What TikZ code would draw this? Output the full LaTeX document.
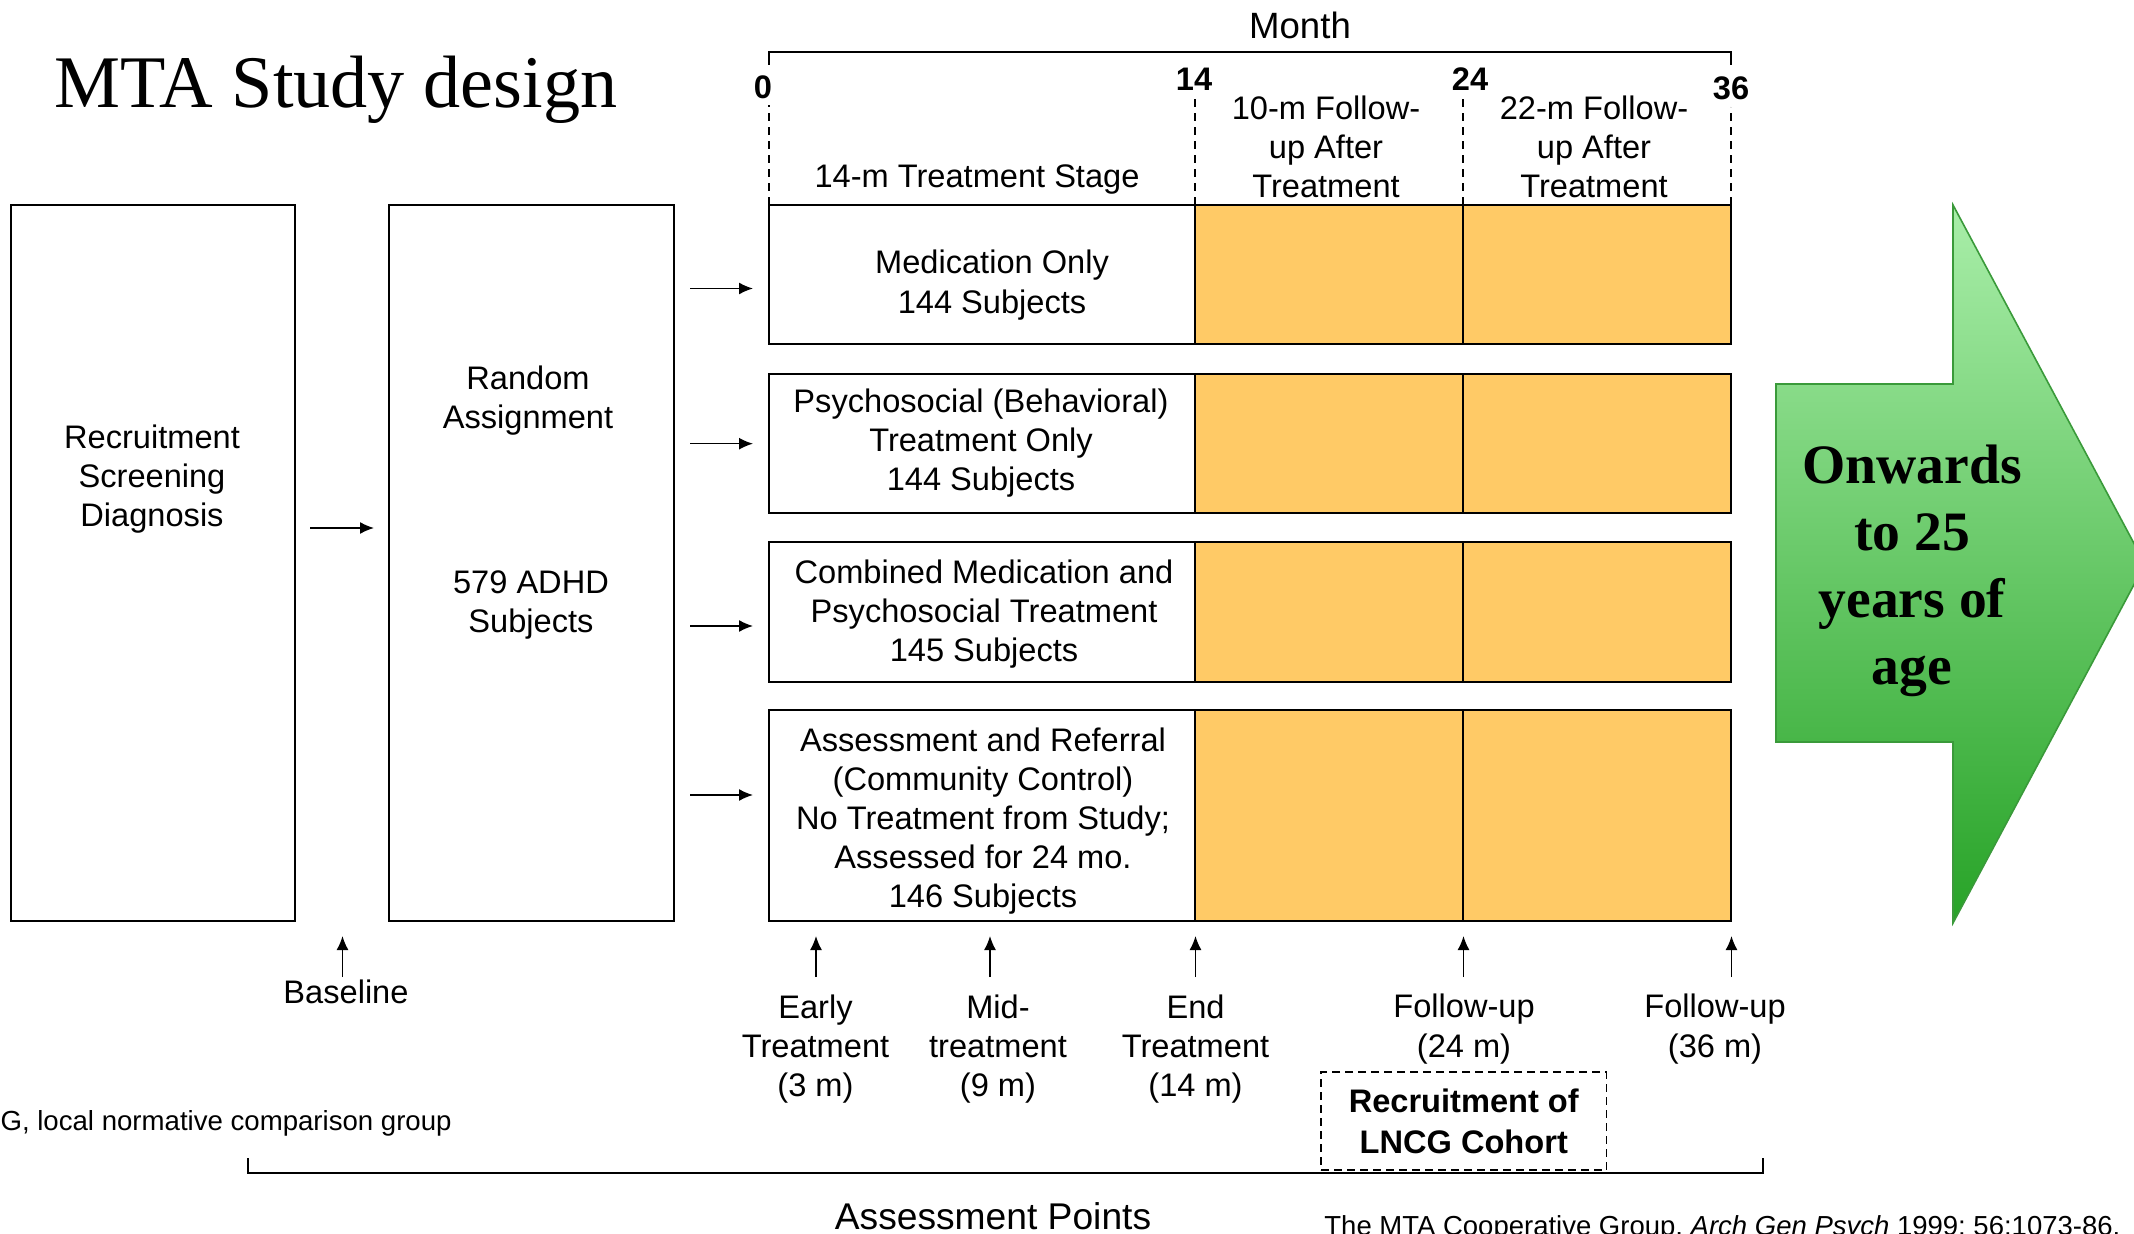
\documentclass[tikz,border=0pt]{standalone}
\usepackage{fontspec}
\setmainfont{Liberation Sans}
\newfontfamily\serifr{Liberation Serif}
\usetikzlibrary{arrows.meta}
\definecolor{orng}{HTML}{FFCA66}
\definecolor{grtop}{HTML}{A9EEA9}
\definecolor{grbot}{HTML}{27A327}
\definecolor{grline}{HTML}{3A9A3A}
\begin{document}
\begin{tikzpicture}[x=0.5pt,y=-0.5pt,
  txt/.style={font=\fontsize{16.3}{19.6}\selectfont, align=center, inner sep=0pt},
  numb/.style={font=\fontsize{16.3}{19.6}\selectfont\bfseries, inner sep=0pt},
  boxn/.style={draw=black, line width=0.9pt, inner sep=0pt, outer sep=0pt},
  arr/.style={-{Latex[length=7pt,width=6pt]}, line width=0.75pt},
  dashline/.style={line width=0.7pt, dash pattern=on 4pt off 3pt},
  brack/.style={line width=1.3pt}]
\useasboundingbox (0,0) rectangle (2134,1234);
\clip (0,0) rectangle (2134,1234);

% title
\node[font=\serifr\fontsize{37.1}{40}\selectfont, anchor=base west, inner sep=0pt] (title) at (54,108) {MTA Study design};

% left boxes
\node[boxn, minimum width=142pt, minimum height=358pt] (b1) at (153,563) {};
\node[boxn, minimum width=142.5pt, minimum height=358pt] (b2) at (531.5,563) {};
\node[txt] (t1) at (152,479) {Recruitment\\Screening\\Diagnosis};
\node[txt] (t2a) at (528,400.5) {Random\\Assignment};
\node[txt] (t2b) at (531,605) {579 ADHD\\Subjects};

% treatment rows
\foreach \n/\y/\h in {1/274.5/69.5, 2/443.5/69.5, 3/612/70, 4/815.5/105.5}{
  \node[boxn, minimum width=213pt, minimum height=\h pt] (w\n) at (982,\y) {};
  \node[boxn, fill=orng, minimum width=134pt, minimum height=\h pt] (oa\n) at (1329,\y) {};
  \node[boxn, fill=orng, minimum width=134pt, minimum height=\h pt] (ob\n) at (1597,\y) {};
}
\node[txt] (rt1) at (992,285) {Medication Only\\144 Subjects};
\node[txt] (rt2) at (981,443) {Psychosocial (Behavioral)\\Treatment Only\\144 Subjects};
\node[txt] (rt3) at (984,614) {Combined Medication and\\Psychosocial Treatment\\145 Subjects};
\node[txt] (rt4) at (983,821) {Assessment and Referral\\(Community Control)\\No Treatment from Study;\\Assessed for 24 mo.\\146 Subjects};

% timeline header
\node[font=\fontsize{18.3}{22}\selectfont, inner sep=0pt] (month) at (1300,25) {Month};
\draw[brack] (w1.north west |- 0,65) -- (w1.north west |- 0,52) -- (ob1.north east |- 0,52) -- (ob1.north east |- 0,65);
\node[numb] (m0) at (763,87) {0};
\node[numb] (m14) at (1194,79) {14};
\node[numb] (m24) at (1470,79) {24};
\node[numb] (m36) at (1731,88) {36};
\draw[dashline] (w1.north west) -- ++(0,-100);
\draw[dashline] (oa1.north west) -- ++(0,-108);
\draw[dashline] (ob1.north west) -- ++(0,-108);
\draw[dashline] (ob1.north east) -- ++(0,-98);
\node[txt] (h1) at (977,180) {14-m Treatment Stage};
\node[txt] (h2) at (1326,147) {10-m Follow-\\up After\\Treatment};
\node[txt] (h3) at (1594,147) {22-m Follow-\\up After\\Treatment};

% arrows into rows
\coordinate (mid12) at (0,528);
\draw[arr, shorten <=7.5pt, shorten >=7.5pt] (b1.east |- mid12) -- (b2.west |- mid12);
\foreach \n/\y in {1/288.5, 2/443.7, 3/626, 4/795}{
  \coordinate (as\n) at (690,\y);
  \draw[arr, shorten >=8pt] (as\n) -- (w\n.west |- as\n);
}

% green arrow
\draw[draw=grline, line width=0.8pt, top color=grtop, bottom color=grbot]
  (1776,384) -- (1953,384) -- (1953,205) -- (2145,564) -- (1953,923) -- (1953,742) -- (1776,742) -- cycle;
\node[font=\serifr\bfseries\fontsize{27.8}{33.5}\selectfont, align=center, inner sep=0pt] (onw) at (1912,571) {Onwards\\to 25\\years of\\age};

% assessment arrows
\foreach \nm/\x in {pb/342.5, pe/816, pm/990, pn/1195.5, pf/1463.5, pg/1731.5}{
  \coordinate (\nm) at (\x,977);
  \draw[arr] (\nm) -- ++(0,-41);
}
\node[txt] (lbase) at (346,992) {Baseline};
\node[txt] (learly) at (815.5,1049) {Early\\Treatment\\(3 m)};
\node[txt] (lmid) at (998,1049) {Mid-\\treatment\\(9 m)};
\node[txt] (lend) at (1195.5,1049) {End\\Treatment\\(14 m)};
\node[txt] (lf24) at (1464,1029) {Follow-up\\(24 m)};
\node[txt] (lf36) at (1715,1029) {Follow-up\\(36 m)};

\node[draw, line width=0.8pt, dash pattern=on 4pt off 2.5pt, minimum width=142.75pt, minimum height=49pt,
  font=\fontsize{16.3}{20.5}\selectfont\bfseries, align=center, inner sep=0pt] (rec) at (1463.75,1121) {Recruitment of\\LNCG Cohort};

% bottom bracket
\coordinate (bkl) at (248,1158);
\coordinate (bkr) at (1763,1158);
\draw[brack] (bkl) -- ++(0,15) -| (bkr);
\node[font=\fontsize{18.6}{22}\selectfont, anchor=base, inner sep=0pt] (ap) at (993,1229) {Assessment Points};

\node[font=\fontsize{13.8}{16}\selectfont, anchor=base east, inner sep=0pt] (lncg) at (452,1130) {LNCG, local normative comparison group};
\node[font=\fontsize{13.75}{16}\selectfont, anchor=base west, inner sep=0pt] (cite) at (1324,1235) {The MTA Cooperative Group, \textit{Arch Gen Psych} 1999; 56:1073-86.};
\end{tikzpicture}
\end{document}
